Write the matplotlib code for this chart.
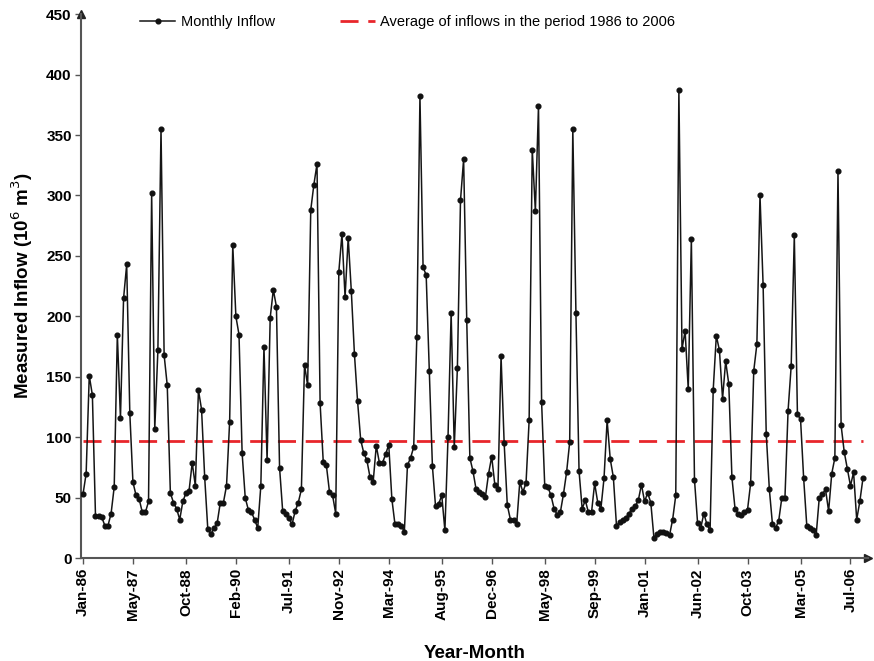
import matplotlib
matplotlib.use("Agg")
import matplotlib.pyplot as plt
import numpy as np

# ---- data (10^6 m^3), monthly from Jan-1986 ----
inflow_86_89 = [53, 70, 151, 135, 35, 35, 34, 27, 27, 37, 59, 185, 116, 215, 243, 120, 63, 52, 49, 38,
                38, 47, 302, 107, 172, 355, 168, 143, 54, 46, 41, 32, 47, 54, 56, 79, 60, 139, 123, 67,
                24, 20]
inflow_89_92 = [25, 29, 46, 46, 60, 113, 259, 200, 185, 87, 50, 40, 38, 32, 25, 60, 175, 81, 199, 222,
                208, 75, 39, 37, 33, 28, 39, 46, 57, 160, 143, 288, 309, 326, 128, 80, 77, 55, 52, 37,
                237, 268]
inflow_93_96 = [216, 265, 221, 169, 130, 98, 87, 81, 67, 63, 93, 79, 79, 86, 94, 49, 28, 28, 27, 22,
                77, 83, 92, 183, 382, 241, 234, 155, 76, 43, 45, 52, 23, 100, 203, 92, 157, 296, 330, 197,
                83, 72]
inflow_96_99 = [57, 55, 53, 51, 70, 84, 61, 57, 167, 95, 44, 32, 32, 28, 63, 55, 62, 114, 338, 287,
                374, 129, 60, 59, 52, 41, 36, 38, 53, 71, 96, 355, 203, 72, 41, 48, 38, 38, 62, 46,
                41, 66]
inflow_00_03 = [114, 82, 67, 27, 30, 32, 33, 37, 41, 43, 48, 61, 47, 54, 46, 17, 20, 22, 22, 21,
                19, 32, 52, 387, 173, 188, 140, 264, 65, 29, 25, 37, 28, 23, 139, 184, 172, 132, 163, 144,
                67, 41]
inflow_03_06 = [37, 36, 38, 40, 62, 155, 177, 300, 226, 103, 57, 28, 25, 31, 50, 50, 122, 159, 267, 119,
                115, 66, 27, 25, 23, 19, 50, 53, 57, 39, 70, 83, 320, 110, 88, 74, 60, 71, 32, 47,
                66]
average_inflow = 97

tick_labels = ["Jan-86", "May-87", "Oct-88", "Feb-90", "Jul-91", "Nov-92", "Mar-94", "Aug-95",
               "Dec-96", "May-98", "Sep-99", "Jan-01", "Jun-02", "Oct-03", "Mar-05", "Jul-06"]
y_ticks = [0, 50, 100, 150, 200, 250, 300, 350, 400, 450]

inflow = np.array(inflow_86_89 + inflow_89_92 + inflow_93_96 + inflow_96_99 + inflow_00_03 + inflow_03_06)
months = np.arange(len(inflow))

mon_names = ["Jan", "Feb", "Mar", "Apr", "May", "Jun", "Jul", "Aug", "Sep", "Oct", "Nov", "Dec"]
def month_index(lbl):
    m, y = lbl.split("-")
    y = int(y)
    yr = 1900 + y if y >= 50 else 2000 + y
    return (yr - 1986) * 12 + mon_names.index(m)
tick_pos = [month_index(t) for t in tick_labels]

# ---- figure ----
plt.rcParams['font.family'] = ['Liberation Sans', 'DejaVu Sans']
fig = plt.figure(figsize=(8.74, 6.61), dpi=100)
ax = fig.add_axes([0.0932, 0.1554, 0.8995, 0.8233])

axis_col = "#555555"
ax.plot(months, inflow, color="#151515", lw=1.1, marker="o", markersize=3.4,
        markerfacecolor="#111111", markeredgecolor="#111111", label="Monthly Inflow", zorder=3)
ax.plot([months[0], months[-1]], [average_inflow, average_inflow], color="#e8262b", lw=2.0,
        dashes=(6.5, 3.5), label="Average of inflows in the period 1986 to 2006", zorder=2)

ax.set_xticks(tick_pos)
ax.set_xticklabels(tick_labels, rotation=90, fontsize=11, fontweight="bold")
ax.set_yticks(y_ticks)
ax.set_yticklabels([str(v) for v in y_ticks], fontsize=11, fontweight="bold")
ax.set_xlim(-0.5, 251.5)
ax.set_ylim(0, 450)
ax.tick_params(axis="both", direction="out", length=4, width=1.0, color=axis_col, pad=3)

for s in ["top", "right"]:
    ax.spines[s].set_visible(False)
for s in ["left", "bottom"]:
    ax.spines[s].set_color(axis_col)
    ax.spines[s].set_linewidth(1.5)

# axis arrows
ax.plot([1.0], [0.0], marker=">", color="#222222", markersize=6, transform=ax.transAxes, clip_on=False)
ax.plot([0.0], [1.0], marker="^", color="#222222", markersize=6, transform=ax.transAxes, clip_on=False)

ax.set_xlabel("Year-Month", fontsize=13.5, fontweight="bold", labelpad=18)
ax.set_ylabel("Measured Inflow (10$^{6}$ m$^{3}$)", fontsize=13.5, fontweight="bold", labelpad=8)

leg = ax.legend(ncol=2, frameon=False, loc="center left", bbox_to_anchor=(0.075, 0.985),
                fontsize=10.5, handlelength=2.4, handletextpad=0.35, columnspacing=4.5,
                borderaxespad=0, borderpad=0)

fig.savefig("out.png", dpi=100)
